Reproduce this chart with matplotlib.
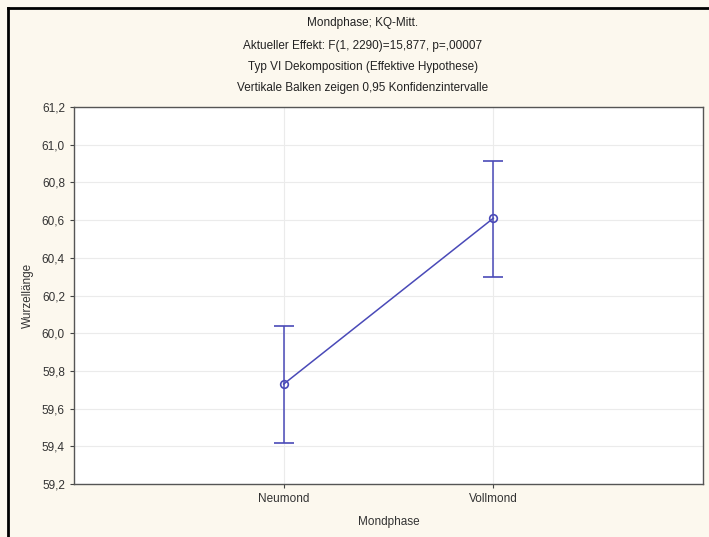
import matplotlib.pyplot as plt
from matplotlib.lines import Line2D
from matplotlib.ticker import FuncFormatter

plt.rcParams['font.family'] = ['Liberation Sans', 'DejaVu Sans']

# Daten
phasen = ['Neumond', 'Vollmond']
mittel = [59.73, 60.61]
ki_unten = [59.42, 60.30]
ki_oben = [60.04, 60.915]
y_ticks = [59.2, 59.4, 59.6, 59.8, 60.0, 60.2, 60.4, 60.6, 60.8, 61.0, 61.2]
titel = ['Mondphase; KQ-Mitt.',
         'Aktueller Effekt: F(1, 2290)=15,877, p=,00007',
         'Typ VI Dekomposition (Effektive Hypothese)',
         'Vertikale Balken zeigen 0,95 Konfidenzintervalle']

bg = '#fcf8ee'
farbe = '#4a4ab8'
W, H = 709, 537

fig = plt.figure(figsize=(W / 100, H / 100), dpi=100, facecolor=bg)
ax = fig.add_axes([74 / W, 1 - 484 / H, (703 - 74) / W, (484 - 107) / H])
ax.set_facecolor('white')

x = list(range(len(phasen)))
err_lo = [m - u for m, u in zip(mittel, ki_unten)]
err_hi = [o - m for m, o in zip(mittel, ki_oben)]
ax.errorbar(x, mittel, yerr=[err_lo, err_hi], color=farbe, lw=1.1,
            capsize=7, capthick=1.1, marker='o', ms=5.5,
            mfc='none', mec=farbe, mew=1.2)

ax.set_xlim(-1, 2)
ax.set_ylim(59.2, 61.2)
ax.set_xticks(x)
ax.set_xticklabels(phasen)
ax.set_yticks(y_ticks)
ax.yaxis.set_major_formatter(FuncFormatter(lambda v, p: f'{v:.1f}'.replace('.', ',')))
ax.grid(True, color='#ebebeb', lw=0.8)
ax.set_axisbelow(True)
ax.tick_params(labelsize=8.5, colors='#444444', length=3, width=0.8, labelcolor='#333333')
for s in ax.spines.values():
    s.set_color('#555555')
    s.set_linewidth(1.0)

ax.set_xlabel('Mondphase', fontsize=8.5, color='#333333', labelpad=8)
fig.text(28 / W, 1 - 295 / H, 'Wurzellänge', rotation=90, fontsize=8.5,
         color='#333333', ha='center', va='center')

for t, yy in zip(titel, [23, 46, 67, 88]):
    fig.text(363 / W, 1 - yy / H, t, fontsize=8.5, color='#222222',
             ha='center', va='center')

# schwarzer Rahmen oben und links
fig.add_artist(Line2D([8 / W, 1], [1 - 8 / H, 1 - 8 / H], color='black', lw=2, transform=fig.transFigure))
fig.add_artist(Line2D([8 / W, 8 / W], [0, 1 - 8 / H], color='black', lw=2, transform=fig.transFigure))

fig.savefig('out.png', dpi=100, facecolor=bg)
